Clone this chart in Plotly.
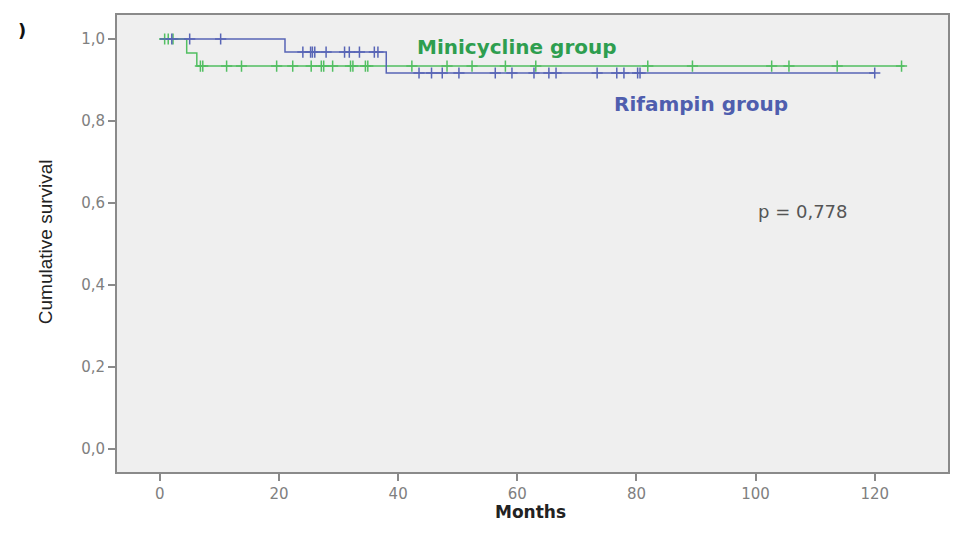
import plotly.graph_objects as go
import numpy as np

# Kaplan-Meier step data (months, cumulative survival)
rif_times = [0, 21, 38, 120]
rif_surv = [1.0, 0.968, 0.917, 0.917]
rif_censor = [2, 5, 10.2, 24, 25.3, 25.6, 26, 27.9, 31, 31.8, 33.5, 36, 36.6,
              43.5, 45.6, 47.4, 50.2, 56.3, 59.1, 62.8, 65.3, 66.5, 73.4, 76.7,
              77.9, 80.2, 80.6, 120]

mino_times = [0, 4.5, 6.2, 125]
mino_surv = [1.0, 0.966, 0.934, 0.934]
mino_censor = [0.8, 1.4, 2.2, 6.8, 7.2, 11.2, 13.7, 19.6, 22.3, 25.4, 27.1, 27.5,
               29, 32, 32.4, 34.5, 34.9, 42.3, 48.2, 52.4, 58, 63.1, 81.9, 89.4,
               102.7, 105.6, 113.7, 124.5]

x_ticks = [0, 20, 40, 60, 80, 100, 120]
y_ticks = [0.0, 0.2, 0.4, 0.6, 0.8, 1.0]
y_tick_text = ["0,0", "0,2", "0,4", "0,6", "0,8", "1,0"]

GREEN = "#52bf62"
BLUE = "#5865b6"


def surv_at(times, surv, t):
    idx = np.searchsorted(times, t, side="right") - 1
    return surv[max(idx, 0)]


fig = go.Figure()
for times, surv, cens, col in [(mino_times, mino_surv, mino_censor, GREEN),
                               (rif_times, rif_surv, rif_censor, BLUE)]:
    fig.add_trace(go.Scatter(x=times, y=surv, mode="lines", line=dict(color=col, width=1.5, shape="hv"),
                             showlegend=False, hoverinfo="skip"))
    fig.add_trace(go.Scatter(x=cens, y=[surv_at(times, surv, c) for c in cens], mode="markers",
                             marker=dict(symbol="cross-thin-open", size=8, color=col,
                                         line=dict(color=col, width=1.5)),
                             showlegend=False))

fig.add_annotation(x=59.9, y=0.98, text="<b>Minicycline group</b>", showarrow=False,
                   font=dict(family="DejaVu Sans", size=20, color="#2e9e4f"))
fig.add_annotation(x=90.8, y=0.841, text="<b>Rifampin group</b>", showarrow=False,
                   font=dict(family="DejaVu Sans", size=20, color="#4f5eae"))
fig.add_annotation(x=107.8, y=0.58, text="p = 0,778", showarrow=False,
                   font=dict(family="DejaVu Sans", size=18, color="#555555"))
fig.add_annotation(xref="paper", yref="paper", x=-0.114, y=0.967, text="<b>)</b>", showarrow=False,
                   xanchor="center", yanchor="middle",
                   font=dict(family="DejaVu Sans", size=18, color="#111111"))
fig.add_annotation(xref="paper", yref="paper", x=-0.0866, y=0.503, text="Cumulative survival",
                   textangle=-90, showarrow=False, xanchor="center", yanchor="middle",
                   font=dict(family="Liberation Sans", size=19, color="#222222"))
fig.add_annotation(xref="paper", yref="paper", x=0.498, y=-0.1138, text="<b>Months</b>", showarrow=False,
                   xanchor="center", yanchor="bottom",
                   font=dict(family="DejaVu Sans", size=17, color="#222222"))

axis_common = dict(showgrid=False, zeroline=False, showline=True, linecolor="#8a8a8a", linewidth=2,
                   mirror=True, ticks="outside", tickcolor="#8a8a8a", ticklen=7, tickwidth=2,
                   automargin=False,
                   tickfont=dict(family="DejaVu Sans", size=15, color="#808080"))

fig.update_xaxes(range=[-7.2, 132.3], tickvals=x_ticks, **axis_common)
fig.update_yaxes(range=[-0.056, 1.0585], tickvals=y_ticks, ticktext=y_tick_text, **axis_common)

# page body has an 8px margin, so the figure is sized to fit inside the window
fig.update_layout(width=950, height=517, margin=dict(l=109, r=10, t=7, b=53),
                  plot_bgcolor="#efefef", paper_bgcolor="#ffffff")

fig.write_html("out.html")
